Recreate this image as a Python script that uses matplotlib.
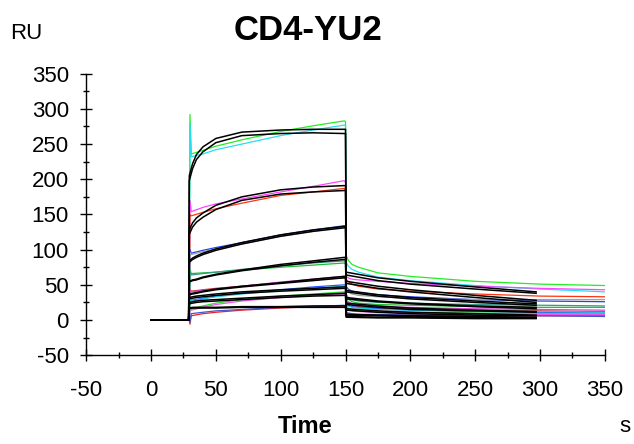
import matplotlib
matplotlib.use('Agg')
import matplotlib.pyplot as plt
from matplotlib.ticker import MultipleLocator

plt.rcParams['font.family'] = ['Liberation Sans', 'DejaVu Sans']
plt.rcParams['axes.unicode_minus'] = False

# time points of the measured curves (s)
t_data = [0, 29.5, 30, 31, 40, 50, 70, 100, 125, 149, 150, 150.5, 152, 155, 160, 175, 200, 250, 300, 350]
# time points of the fitted curves (s)
t_fit = [0, 29, 29.5, 32, 35, 40, 50, 70, 100, 125, 149, 150, 150.5, 175, 200, 250, 297]

# measured responses (RU), two replicates per concentration
green1 = [0, 0, 292, 236, 241, 247, 256, 268, 276, 283, 282, 92, 85, 79, 75, 67, 62, 55, 51, 49]
cyan1 = [0, 0, 280, 232, 236, 242, 250, 262, 270, 277, 276, 82, 77, 72, 68, 61, 56, 49, 44, 40]
magenta2 = [0, 0, 170, 154, 160, 165, 172, 182, 190, 198, 195, 62, 60, 58, 57, 55, 52, 48, 45, 43]
red2 = [0, 0, 150, 148, 153, 158, 166, 177, 182, 187, 185, 58, 55, 51, 48, 44, 41, 37, 34, 33]
blue3 = [0, 0, 100, 95, 99, 103, 110, 121, 128, 134, 133, 48, 44, 41, 39, 36, 33, 29, 27, 26]
grey3 = [0, 0, 96, 93, 97, 101, 108, 119, 126, 132, 131, 44, 40, 37, 35, 33, 31, 29, 29, 29]
green4 = [0, 0, 72, 66, 67, 68, 71, 75, 78, 81, 80, 35, 30, 26, 24, 22, 21, 19, 18, 18]
teal4 = [0, 0, 68, 64, 66, 68, 72, 77, 81, 84, 83, 37, 32, 29, 27, 25, 24, 22, 21, 20]
red5 = [0, 0, 44, 41, 43, 45, 48, 53, 57, 60, 59, 28, 24, 21, 19, 17, 16, 14, 13, 12]
magenta5 = [0, 0, 43, 40, 42, 44, 48, 54, 58, 62, 61, 30, 26, 23, 21, 19, 18, 16, 15, 14]
blue6 = [0, 0, 31, 28, 31, 34, 38, 43, 47, 50, 49, 25, 21, 19, 18, 16, 14, 12, 11, 10]
cyan6 = [0, 0, 30, 27, 30, 33, 37, 42, 45, 48, 47, 23, 20, 18, 17, 15, 14, 13, 12, 11]
green7 = [0, 0, 20, 16, 20, 24, 29, 34, 37, 40, 39, 21, 17, 15, 14, 12, 11, 10, 9, 9]
magenta7 = [0, 0, 18, 14, 18, 22, 27, 32, 35, 37, 36, 19, 15, 13, 12, 11, 10, 9, 8, 8]
red8 = [0, 0, -6, 6, 9, 11, 14, 17, 19, 20, 19, 11, 9, 8, 8, 7, 7, 6, 6, 6]
blue8 = [0, 0, -3, 9, 11, 13, 15, 18, 19, 21, 20, 12, 10, 9, 8, 8, 7, 7, 6, 5]

# fitted responses (RU)
fit1a = [0, 0, 205, 222, 235, 246, 258, 267, 270, 271, 271, 271, 68, 60, 55, 47, 40]
fit1b = [0, 0, 198, 215, 228, 239, 252, 262, 265, 266, 265, 265, 64, 56, 51, 44, 38]
fit2a = [0, 0, 128, 138, 145, 152, 163, 175, 185, 189, 191, 191, 55, 48, 43, 35, 28]
fit2b = [0, 0, 122, 132, 139, 146, 157, 170, 179, 182, 184, 184, 52, 45, 40, 32, 25]
fit3a = [0, 0, 84, 88, 91, 95, 101, 110, 121, 128, 133, 133, 42, 36, 32, 27, 23]
fit3b = [0, 0, 82, 86, 89, 93, 99, 108, 119, 126, 131, 131, 40, 34, 30, 25, 21]
fit4a = [0, 0, 55, 57, 58, 61, 65, 71, 79, 84, 89, 89, 32, 27, 24, 20, 18]
fit4b = [0, 0, 54, 56, 57, 60, 64, 70, 77, 82, 86, 86, 30, 26, 23, 19, 16]
fit5a = [0, 0, 37, 38, 39, 41, 44, 48, 53, 58, 62, 62, 24, 20, 17, 14, 12]
fit5b = [0, 0, 36, 37, 38, 40, 43, 47, 52, 56, 60, 60, 22, 18, 15, 13, 11]
fit6a = [0, 0, 32, 33, 34, 35, 37, 40, 43, 45, 47, 47, 16, 13, 11, 9, 7]
fit6b = [0, 0, 30, 31, 32, 33, 35, 38, 41, 43, 45, 45, 14, 11, 9, 7, 6]
fit7a = [0, 0, 25, 26, 27, 28, 29, 31, 34, 36, 38, 38, 8, 7, 6, 5, 4]
fit7b = [0, 0, 23, 24, 25, 26, 27, 29, 32, 34, 35, 35, 7, 6, 5, 4, 3]
fit8a = [0, 0, 17, 18, 18, 18, 18, 19, 19, 20, 20, 20, 5, 4, 4, 3, 3]
fit8b = [0, 0, 16, 17, 17, 17, 17, 18, 18, 18, 18, 18, 4, 3, 3, 2, 2]

data_curves = [
    (green1, '#22ee22'), (cyan1, '#22e0f0'),
    (magenta2, '#ff44ff'), (red2, '#ff3311'),
    (blue3, '#2244ee'), (grey3, '#a0a0a0'),
    (green4, '#22bb33'), (teal4, '#339988'),
    (red5, '#cc3333'), (magenta5, '#dd44dd'),
    (blue6, '#2255ff'), (cyan6, '#22ccdd'),
    (green7, '#33dd33'), (magenta7, '#ee55ee'),
    (red8, '#ee2222'), (blue8, '#4455cc'),
]
fits = [fit1a, fit1b, fit2a, fit2b, fit3a, fit3b, fit4a, fit4b,
        fit5a, fit5b, fit6a, fit6b, fit7a, fit7b, fit8a, fit8b]

fig = plt.figure(figsize=(6.34, 4.44), dpi=100)
ax = fig.add_axes([0.136, 0.2, 0.818, 0.634])

for vals, c in data_curves:
    ax.plot(t_data, vals, color=c, lw=0.9)
for vals in fits:
    ax.plot(t_fit, vals, color='black', lw=1.1)

ax.set_xlim(-50, 350)
ax.set_ylim(-50, 350)
ax.spines['top'].set_visible(False)
ax.spines['right'].set_visible(False)
ax.spines['left'].set_linewidth(1.0)
ax.spines['bottom'].set_linewidth(1.0)
ax.xaxis.set_major_locator(MultipleLocator(50))
ax.xaxis.set_minor_locator(MultipleLocator(25))
ax.yaxis.set_major_locator(MultipleLocator(50))
ax.yaxis.set_minor_locator(MultipleLocator(25))
ax.tick_params(which='major', direction='inout', length=9, width=1.0, labelsize=16)
ax.tick_params(which='minor', direction='inout', length=5, width=1.0)
ax.tick_params(axis='x', which='major', pad=13)
ax.tick_params(axis='y', which='major', pad=8)

fig.text(0.486, 0.932, 'CD4-YU2', ha='center', va='center', fontsize=25, fontweight='bold')
fig.text(0.016, 0.925, 'RU', ha='left', va='center', fontsize=16)
fig.text(0.481, 0.04, 'Time', ha='center', va='center', fontsize=17, fontweight='bold')
fig.text(0.986, 0.04, 's', ha='center', va='center', fontsize=16)

fig.savefig('out.png', dpi=100)
